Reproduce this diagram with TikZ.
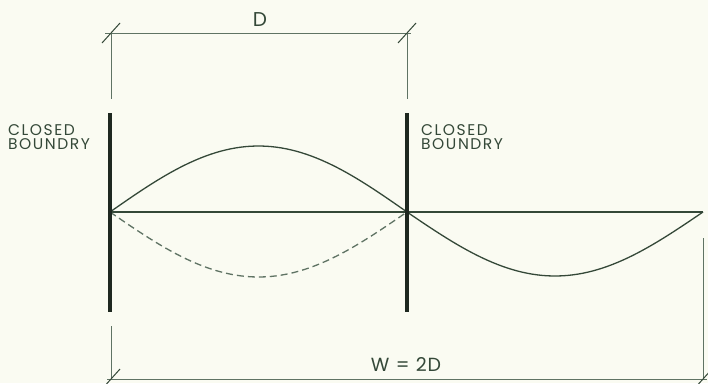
\documentclass[tikz,border=0pt]{standalone}
\usepackage{fontspec}
\setmainfont{Poppins}
\newfontfamily\handfont[LetterSpace=4]{Poppins}
\newfontfamily\wallfont[LetterSpace=10]{Poppins}
\usepackage{xcolor}
\usepackage{tikz}
\usetikzlibrary{positioning, calc}
\definecolor{paper}{RGB}{250, 251, 242}
\definecolor{inkdark}{RGB}{30, 40, 32}
\definecolor{inkgreen}{RGB}{52, 72, 56}
\definecolor{dimgray}{RGB}{95, 115, 100}
\tikzstyle{wall} = [draw=inkdark, line width=3.6pt]
\tikzstyle{wave} = [draw=inkgreen, line width=1.3pt]
\tikzstyle{dimline} = [draw=dimgray, line width=0.9pt]
\tikzstyle{tick} = [draw=inkgreen, line width=1pt]
\tikzstyle{lbl} = [font=\wallfont\fontsize{15.5}{16}\selectfont, text=inkgreen, align=left, inner sep=0pt]

\begin{document}
\begin{tikzpicture}[x=1pt, y=-1pt]
    \fill[paper] (0,0) rectangle (708,383);
    \useasboundingbox (0,0) rectangle (708,383);

    % boundaries and dimension points
    \coordinate (lTop) at (110,113);
    \coordinate (lBot) at (110,312);
    \coordinate (rTop) at (407,113);
    \coordinate (rBot) at (407,312);
    \coordinate (lAxis) at (110,212);
    \coordinate (rAxis) at (407,212);
    \coordinate (eAxis) at (703,212);
    \coordinate (dL) at (111,33);
    \coordinate (dR) at (407,33);
    \coordinate (wL) at (111,379);
    \coordinate (wR) at (703,379);

    % extension lines
    \draw [dimline] (dL) -- (111,99);
    \draw [dimline] (dR) -- (407,99);
    \draw [dimline] (111,326) -- (wL);
    \draw [dimline] (703,238) -- (wR);

    % dimension lines with slash ticks
    \draw [dimline] ($(dL)+(-6,0)$) -- ($(dR)+(4,0)$);
    \draw [dimline] ($(wL)+(-4,0)$) -- ($(wR)+(4,0)$);
    \foreach \p in {dL, dR, wL, wR}
        \draw [tick] ($(\p)+(-9,10)$) -- ($(\p)+(9,-10)$);

    % axis and waves
    \draw [wave] (lAxis) -- (eAxis);
    \draw [wave] plot[domain=0:180, samples=60] ({110+1.65*\x}, {212-66*sin(\x)});
    \draw [wave, dashed, dash pattern=on 7pt off 4pt, draw=dimgray] plot[domain=0:180, samples=60] ({110+1.65*\x}, {212+65*sin(\x)});
    \draw [wave] plot[domain=0:180, samples=60] ({407+1.6444*\x}, {212+64*sin(\x)});

    \draw [wall] (lTop) -- (lBot);
    \draw [wall] (rTop) -- (rBot);

    % labels
    \node (dLab) [lbl, font=\handfont\fontsize{20}{21}\selectfont] at (260,20) {D};
    \node (wLab) [lbl, font=\handfont\fontsize{19}{20}\selectfont] at (406,365) {W\,\,=\,\,2D};
    \node (lWall) [lbl, anchor=north west] at (8,124) {CLOSED\\[-2pt]BOUNDRY};
    \node (rWall) [lbl, anchor=north west] at (421,124) {CLOSED\\[-2pt]BOUNDRY};
\end{tikzpicture}
\end{document}
